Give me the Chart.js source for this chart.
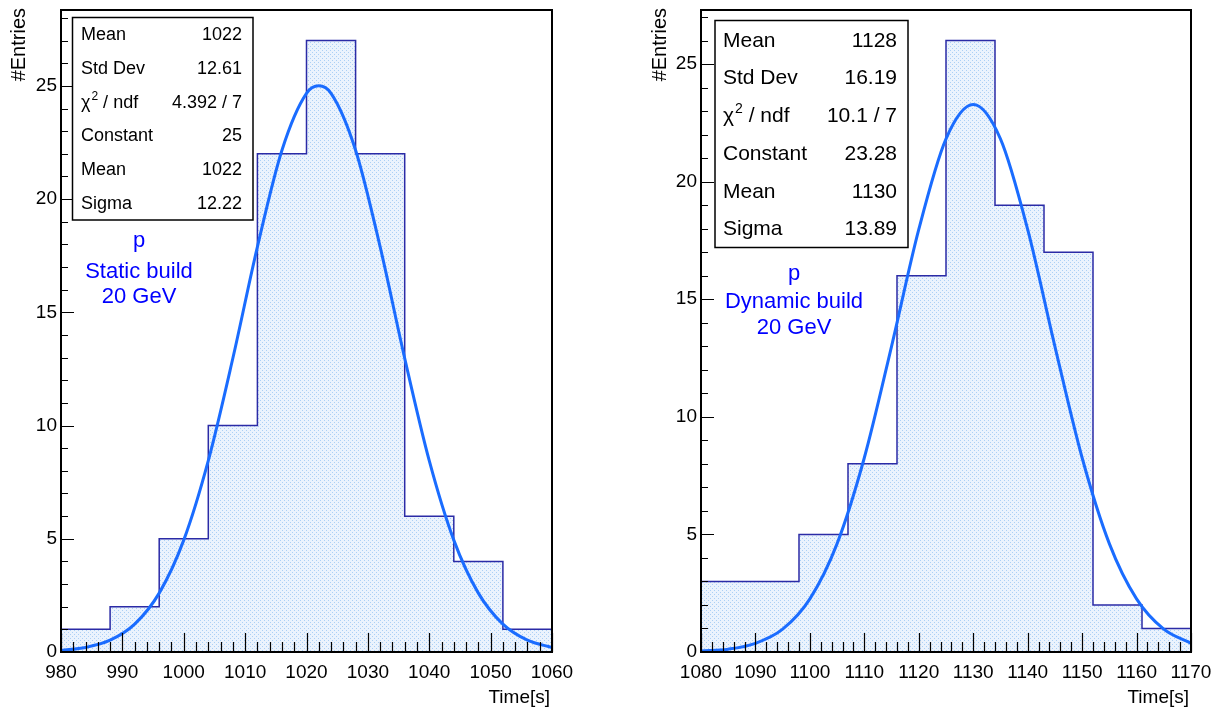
<!DOCTYPE html>
<html>
<head>
<meta charset="utf-8">
<script src="https://cdn.jsdelivr.net/npm/chart.js@4"></script>
<style>
  body { margin: 0; background: #fff; }
  .pad { position: absolute; top: 0; }
</style>
</head>
<body>
<div class="pad" style="left:0"><canvas id="staticChart" width="611" height="713"></canvas></div>
<div class="pad" style="left:612px"><canvas id="dynamicChart" width="611" height="713"></canvas></div>
<script>
// static build
const binEdgesL = [980, 988, 996, 1004, 1012, 1020, 1028, 1036, 1044, 1052, 1060];
const countsL = [1, 2, 5, 10, 22, 27, 22, 6, 4, 1];
const fitXL = [980, 984, 988, 992, 996, 1000, 1004, 1008, 1012, 1016, 1020, 1022, 1024, 1028, 1032, 1036, 1040, 1044, 1048, 1052, 1056, 1060];
const fitYL = [0.07, 0.2, 0.52, 1.23, 2.6, 4.94, 8.45, 12.97, 17.89, 22.16, 24.67, 25.0, 24.67, 22.16, 17.89, 12.97, 8.45, 4.94, 2.6, 1.23, 0.52, 0.2];
const xTicksL = [980, 990, 1000, 1010, 1020, 1030, 1040, 1050, 1060];
const statsL = [['Mean', '1022'], ['Std Dev', '12.61'], ['χ^2 / ndf', '4.392 / 7'], ['Constant', '25'], ['Mean', '1022'], ['Sigma', '12.22']];
const noteL = ['p', 'Static build', '20 GeV'];

// dynamic build
const binEdgesR = [1080, 1089, 1098, 1107, 1116, 1125, 1134, 1143, 1152, 1161, 1170];
const countsR = [3, 3, 5, 8, 16, 26, 19, 17, 2, 1];
const fitXR = [1080, 1085, 1090, 1095, 1100, 1105, 1110, 1115, 1120, 1125, 1130, 1135, 1140, 1145, 1150, 1155, 1160, 1165, 1170];
const fitYR = [0.04, 0.12, 0.37, 0.97, 2.26, 4.61, 8.26, 13.0, 17.97, 21.82, 23.28, 21.82, 17.97, 13.0, 8.26, 4.61, 2.26, 0.97, 0.37];
const xTicksR = [1080, 1090, 1100, 1110, 1120, 1130, 1140, 1150, 1160, 1170];
const statsR = [['Mean', '1128'], ['Std Dev', '16.19'], ['χ^2 / ndf', '10.1 / 7'], ['Constant', '23.28'], ['Mean', '1130'], ['Sigma', '13.89']];
const noteR = ['p', 'Dynamic build', '20 GeV'];

const yTicks = [0, 5, 10, 15, 20, 25];

const FONT = '"Liberation Sans", Arial, Helvetica, sans-serif';
Chart.defaults.font.family = FONT;
Chart.defaults.color = '#000';

function dotPattern() {
    const c = document.createElement('canvas');
    c.width = 4;
    c.height = 4;
    const g = c.getContext('2d');
    g.fillStyle = '#ebf3fd';
    g.fillRect(0, 0, 4, 4);
    g.fillStyle = '#acd0f5';
    g.fillRect(0, 0, 1, 1);
    g.fillRect(2, 2, 1, 1);
    return g.createPattern(c, 'repeat');
}

function histPoints(edges, counts) {
    const pts = counts.map((c, i) => ({ x: edges[i], y: c }));
    pts.push({ x: edges[edges.length - 1], y: counts[counts.length - 1] });
    return pts;
}

function isMajor(v, step) {
    return Math.abs(v / step - Math.round(v / step)) < 1e-6;
}

// assi, cornice, box statistiche e testi in stile ROOT
function rootDeco(cfg) {
    return {
        id: 'rootDeco',
        afterDraw(chart) {
            const ctx = chart.ctx;
            const a = chart.chartArea;
            const xs = chart.scales.x;
            const ys = chart.scales.y;
            ctx.save();

            // tacche
            ctx.strokeStyle = '#000';
            ctx.lineWidth = 1.2;
            ctx.beginPath();
            for (let v = xs.min; v <= xs.max + 1e-6; v += 2) {
                const px = Math.round(xs.getPixelForValue(v)) + 0.5;
                const len = isMajor(v, 10) ? 19 : 10;
                ctx.moveTo(px, a.bottom);
                ctx.lineTo(px, a.bottom - len);
            }
            for (let v = 0; v <= ys.max; v += 1) {
                const py = Math.round(ys.getPixelForValue(v)) + 0.5;
                const len = isMajor(v, 5) ? 13 : 7;
                ctx.moveTo(a.left, py);
                ctx.lineTo(a.left + len, py);
            }
            ctx.stroke();

            // cornice
            ctx.lineWidth = 2;
            ctx.strokeRect(a.left, a.top, a.right - a.left, a.bottom - a.top);

            // box statistiche
            const b = cfg.box;
            ctx.fillStyle = '#fff';
            ctx.fillRect(b.x, b.y, b.w, b.h);
            ctx.lineWidth = 1.5;
            ctx.strokeRect(b.x, b.y, b.w, b.h);
            ctx.fillStyle = '#000';
            ctx.textBaseline = 'alphabetic';
            cfg.stats.forEach((row, i) => {
                const y = b.base + i * b.step;
                ctx.font = b.fs + 'px ' + FONT;
                ctx.textAlign = 'left';
                if (row[0].indexOf('^') >= 0) {
                    const parts = row[0].split('^');
                    ctx.fillText(parts[0], b.tx, y);
                    let x = b.tx + ctx.measureText(parts[0]).width + 1;
                    ctx.font = Math.round(b.fs * 0.65) + 'px ' + FONT;
                    ctx.fillText(parts[1][0], x, y - b.fs * 0.42);
                    x += ctx.measureText(parts[1][0]).width;
                    ctx.font = b.fs + 'px ' + FONT;
                    ctx.fillText(parts[1].slice(1), x, y);
                } else {
                    ctx.fillText(row[0], b.tx, y);
                }
                ctx.textAlign = 'right';
                ctx.fillText(row[1], b.vx, y);
            });

            // testo blu
            ctx.fillStyle = '#0000ff';
            ctx.textAlign = 'center';
            ctx.font = '22px ' + FONT;
            cfg.note.forEach((t, i) => ctx.fillText(t, cfg.noteX, cfg.noteY[i]));

            // titoli assi
            ctx.fillStyle = '#000';
            ctx.font = '19px ' + FONT;
            ctx.textAlign = 'right';
            ctx.fillText('Time[s]', a.right - 2, 703);
            ctx.save();
            ctx.translate(cfg.yTitleX, 8);
            ctx.rotate(-Math.PI / 2);
            ctx.font = '20px ' + FONT;
            ctx.textAlign = 'right';
            ctx.fillText('#Entries', 0, 0);
            ctx.restore();

            ctx.restore();
        }
    };
}

function makeChart(id, p) {
    return new Chart(document.getElementById(id), {
        type: 'line',
        data: {
            datasets: [
                {
                    label: 'fit',
                    data: p.fitX.map((x, i) => ({ x: x, y: p.fitY[i] })),
                    borderColor: '#1a6cff',
                    borderWidth: 3,
                    pointRadius: 0,
                    cubicInterpolationMode: 'monotone',
                    fill: false
                },
                {
                    label: 'hist',
                    data: histPoints(p.edges, p.counts),
                    stepped: 'before',
                    borderColor: '#2b2ba6',
                    borderWidth: 1.5,
                    pointRadius: 0,
                    fill: 'origin',
                    backgroundColor: dotPattern()
                }
            ]
        },
        options: {
            responsive: false,
            animation: false,
            devicePixelRatio: 1,
            layout: { padding: { left: 0, top: 10, right: p.padRight, bottom: 0 } },
            plugins: { legend: { display: false }, tooltip: { enabled: false } },
            scales: {
                x: {
                    type: 'linear',
                    min: p.edges[0],
                    max: p.edges[p.edges.length - 1],
                    grid: { display: false, drawTicks: false },
                    border: { display: false },
                    ticks: { font: { size: 19 }, padding: 9, autoSkip: false, maxRotation: 0, callback: v => String(v) },
                    afterBuildTicks: s => { s.ticks = p.xTicks.map(v => ({ value: v })); },
                    afterFit: s => { s.height = 61; s.paddingLeft = 0; s.paddingRight = 0; }
                },
                y: {
                    min: 0,
                    max: p.yMax,
                    grid: { display: false, drawTicks: false },
                    border: { display: false },
                    ticks: { font: { size: 19 }, padding: 4, callback: v => String(v) },
                    afterBuildTicks: s => { s.ticks = yTicks.map(v => ({ value: v })); },
                    afterFit: s => { s.width = p.yWidth; s.paddingTop = 0; s.paddingBottom = 0; }
                }
            }
        },
        plugins: [rootDeco(p.deco)]
    });
}

makeChart('staticChart', {
    edges: binEdgesL, counts: countsL, fitX: fitXL, fitY: fitYL, xTicks: xTicksL,
    yMax: 28.35, yWidth: 61, padRight: 59,
    deco: {
        stats: statsL, note: noteL, noteX: 139, noteY: [247, 278, 303], yTitleX: 25,
        box: { x: 72.5, y: 17.5, w: 180.5, h: 202.5, fs: 18, tx: 81, vx: 242, base: 40, step: 33.8 }
    }
});

makeChart('dynamicChart', {
    edges: binEdgesR, counts: countsR, fitX: fitXR, fitY: fitYR, xTicks: xTicksR,
    yMax: 27.3, yWidth: 89, padRight: 32,
    deco: {
        stats: statsR, note: noteR, noteX: 182, noteY: [280, 308, 334], yTitleX: 54,
        box: { x: 103, y: 20.5, w: 193, h: 227, fs: 21, tx: 111, vx: 285, base: 46.7, step: 37.7 }
    }
});
</script>
</body>
</html>
